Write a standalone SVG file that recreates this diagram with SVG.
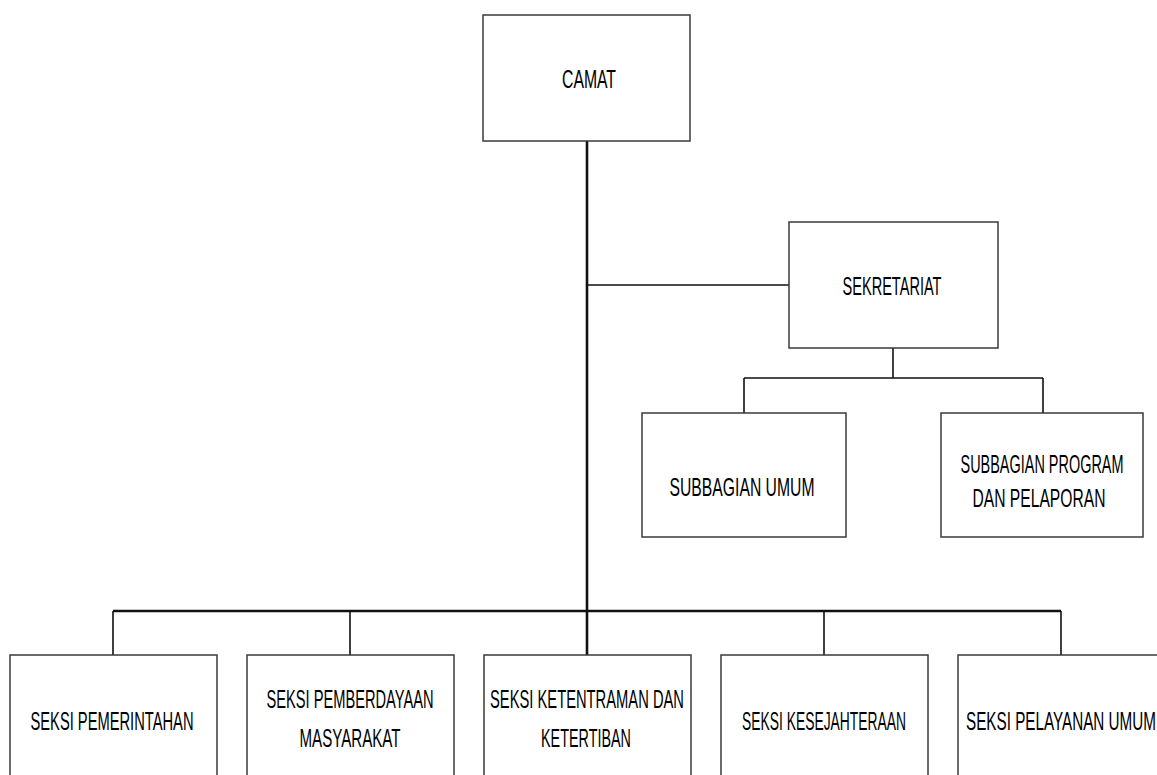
<svg xmlns="http://www.w3.org/2000/svg" width="1157" height="775" viewBox="0 0 1157 775">
<style>
.box{fill:#fff;stroke:#3a3a3a;stroke-width:1.5}
.t{font-family:"Liberation Sans Narrow","Liberation Sans",Arial,sans-serif;font-size:26.5px;fill:#000;text-anchor:middle}
.c{fill:none;stroke:#111;stroke-width:1.6}
.m{fill:none;stroke:#111;stroke-width:2.6}
</style>
<rect width="1157" height="775" fill="#fff"/>
<g id="connectors">
<path class="m" d="M587,141V655"/>
<path class="c" d="M587,285H789"/>
<path class="c" d="M893,348V378M744,378H1043M744,378V413M1043,378V413"/>
<path class="m" d="M113,611H1061"/>
<path class="c" d="M113,611V655M350,611V655M824,611V655M1061,611V655"/>
</g>
<g id="camat"><rect class="box" x="483" y="15" width="207" height="126"/><text class="t" x="589" y="88" textLength="54" lengthAdjust="spacingAndGlyphs">CAMAT</text></g>
<g id="sekretariat"><rect class="box" x="789" y="222" width="209" height="126"/><text class="t" x="892" y="295" textLength="99" lengthAdjust="spacingAndGlyphs">SEKRETARIAT</text></g>
<g id="subbagian-umum"><rect class="box" x="642" y="413" width="204" height="124"/><text class="t" x="742" y="496" textLength="145" lengthAdjust="spacingAndGlyphs">SUBBAGIAN UMUM</text></g>
<g id="subbagian-program"><rect class="box" x="941" y="413" width="202" height="124"/><text class="t" x="1042" y="473" textLength="163" lengthAdjust="spacingAndGlyphs">SUBBAGIAN PROGRAM</text><text class="t" x="1039" y="507" textLength="133" lengthAdjust="spacingAndGlyphs">DAN PELAPORAN</text></g>
<g id="seksi-pemerintahan"><rect class="box" x="10" y="655" width="207" height="130"/><text class="t" x="112" y="730" textLength="163" lengthAdjust="spacingAndGlyphs">SEKSI PEMERINTAHAN</text></g>
<g id="seksi-pemberdayaan"><rect class="box" x="247" y="655" width="207" height="130"/><text class="t" x="350" y="708" textLength="167" lengthAdjust="spacingAndGlyphs">SEKSI PEMBERDAYAAN</text><text class="t" x="350" y="747" textLength="101" lengthAdjust="spacingAndGlyphs">MASYARAKAT</text></g>
<g id="seksi-ketentraman"><rect class="box" x="484" y="655" width="207" height="130"/><text class="t" x="587" y="708" textLength="194" lengthAdjust="spacingAndGlyphs">SEKSI KETENTRAMAN DAN</text><text class="t" x="586" y="747" textLength="90" lengthAdjust="spacingAndGlyphs">KETERTIBAN</text></g>
<g id="seksi-kesejahteraan"><rect class="box" x="721" y="655" width="207" height="130"/><text class="t" x="824" y="730" textLength="164" lengthAdjust="spacingAndGlyphs">SEKSI KESEJAHTERAAN</text></g>
<g id="seksi-pelayanan"><rect class="box" x="958" y="655" width="207" height="130"/><text class="t" x="1061" y="730" textLength="190" lengthAdjust="spacingAndGlyphs">SEKSI PELAYANAN UMUM</text></g>
</svg>
